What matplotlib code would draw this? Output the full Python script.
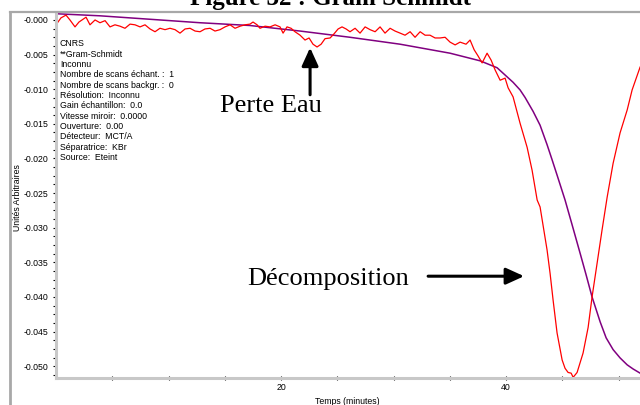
import matplotlib
matplotlib.use("Agg")
import matplotlib.pyplot as plt
from matplotlib.lines import Line2D
from matplotlib.ticker import MultipleLocator, FixedLocator

# Gram-Schmidt trace (red)
gs_t = [0.0, 0.44, 0.89, 1.24, 1.69, 2.04, 2.67, 3.02, 3.47, 3.91, 4.36, 4.80, 5.24,
        5.69, 6.13, 6.58, 7.02, 7.47, 7.91, 8.36, 8.80, 9.24, 9.69, 10.13, 10.58,
        11.02, 11.47, 11.91, 12.36, 12.80, 13.24, 13.69, 14.13, 14.58, 15.02, 15.47,
        15.91, 16.36, 16.80, 17.24, 17.51, 17.87, 18.13, 18.58, 19.02, 19.47, 19.91,
        20.18, 20.53, 20.89, 21.24, 21.69, 22.13, 22.49, 22.84, 23.20, 23.56, 23.91,
        24.36, 24.71, 25.07, 25.42, 25.78, 26.13, 26.58, 27.02, 27.47, 27.91, 28.36,
        28.80, 29.24, 29.69, 30.13, 30.58, 31.02, 31.47, 31.91, 32.36, 32.80, 33.24,
        33.69, 34.13, 34.58, 35.02, 35.47, 35.91, 36.44, 36.80, 37.16, 37.51, 37.87,
        38.31, 38.67, 39.02, 39.47, 39.91, 40.18, 40.62, 41.24, 41.87, 42.31, 42.76,
        43.02, 43.64, 43.91, 44.18, 44.53, 44.98, 45.24, 45.51, 45.78, 45.96, 46.31,
        46.84, 47.29, 47.64, 48.09, 48.53, 48.98, 49.51, 50.13, 50.76, 51.20, 51.91]
gs_v = [-0.0007, 0.0003, 0.0007, 0.0000, -0.0010, -0.0003, 0.0004, -0.0007, 0.0000,
        -0.0004, -0.0001, -0.0010, -0.0007, -0.0009, -0.0012, -0.0006, -0.0007,
        -0.0010, -0.0007, -0.0013, -0.0017, -0.0012, -0.0014, -0.0012, -0.0014,
        -0.0019, -0.0013, -0.0012, -0.0016, -0.0017, -0.0013, -0.0012, -0.0016,
        -0.0014, -0.0010, -0.0007, -0.0012, -0.0009, -0.0007, -0.0006, -0.0003,
        -0.0007, -0.0012, -0.0009, -0.0010, -0.0007, -0.0010, -0.0019, -0.0010,
        -0.0012, -0.0017, -0.0022, -0.0029, -0.0026, -0.0035, -0.0039, -0.0035,
        -0.0027, -0.0026, -0.0020, -0.0013, -0.0010, -0.0013, -0.0017, -0.0012,
        -0.0019, -0.0010, -0.0014, -0.0017, -0.0010, -0.0019, -0.0012, -0.0016,
        -0.0019, -0.0022, -0.0017, -0.0025, -0.0017, -0.0022, -0.0022, -0.0026,
        -0.0026, -0.0025, -0.0032, -0.0036, -0.0032, -0.0035, -0.0029, -0.0043,
        -0.0052, -0.0062, -0.0048, -0.0058, -0.0072, -0.0087, -0.0084, -0.0098,
        -0.0111, -0.0149, -0.0184, -0.0217, -0.0260, -0.0270, -0.0332, -0.0366,
        -0.0405, -0.0452, -0.0491, -0.0503, -0.0509, -0.0510, -0.0516, -0.0509,
        -0.0481, -0.0444, -0.0400, -0.0351, -0.0303, -0.0256, -0.0207, -0.0163,
        -0.0130, -0.0101, -0.0068]

# smooth curve (purple)
fit_t = [0.0, 3.91, 8.36, 12.8, 17.24, 21.69, 26.13, 30.58, 35.02, 37.69, 39.2,
         40.62, 41.24, 41.69, 42.4, 43.02, 43.64, 44.09, 44.53, 45.24, 45.87,
         46.58, 47.11, 47.64, 48.36, 48.89, 49.51, 50.13, 50.76, 51.29, 51.91]
fit_v = [0.0009, 0.0006, 0.0001, -0.0004, -0.0008, -0.0016, -0.0025, -0.0035,
         -0.0048, -0.0059, -0.0069, -0.0090, -0.0101, -0.0112, -0.0132, -0.0152,
         -0.0180, -0.0202, -0.0224, -0.0260, -0.0296, -0.0337, -0.0368, -0.0400,
         -0.0436, -0.0459, -0.0476, -0.0488, -0.0498, -0.0504, -0.0510]

y_ticks = [0.0, -0.005, -0.010, -0.015, -0.020, -0.025, -0.030, -0.035, -0.040,
           -0.045, -0.050]
y_tick_labels = ["-0.000", "-0.005", "-0.010", "-0.015", "-0.020", "-0.025",
                 "-0.030", "-0.035", "-0.040", "-0.045", "-0.050"]
x_ticks = [5, 10, 15, 20, 25, 30, 35, 40, 45, 50]
x_tick_labels = ["", "", "", "20", "", "", "", "40", "", ""]

info = ["CNRS", "**Gram-Schmidt", "Inconnu", "Nombre de scans échant. :  1",
        "Nombre de scans backgr. :  0", "Résolution:  Inconnu",
        "Gain échantillon:  0.0", "Vitesse miroir:  0.0000", "Ouverture:  0.00",
        "Détecteur:  MCT/A", "Séparatrice:  KBr", "Source:  Eteint"]

sans = "Liberation Sans"
serif = "Liberation Serif"

fig = plt.figure(figsize=(6.4, 4.05), dpi=100)
W, H = 640, 405
ax = fig.add_axes([56 / W, 1 - 378 / H, 1 - 56 / W, (378 - 12) / H])

ax.plot(fit_t, fit_v, color="#800080", lw=1.1)
ax.plot(gs_t, gs_v, color="#ff0000", lw=0.9)

ax.set_xlim(0, 51.9)
ax.set_ylim(-0.0517, 0.00115)

ax.set_yticks(y_ticks)
ax.set_yticklabels(y_tick_labels, fontfamily=sans, fontsize=6.3)
ax.yaxis.set_minor_locator(MultipleLocator(0.00125))
ax.xaxis.set_major_locator(FixedLocator(x_ticks))
ax.set_xticklabels(x_tick_labels, fontfamily=sans, fontsize=6.3)
ax.tick_params(axis="y", which="both", direction="out", length=2.5, width=0.8,
               pad=3)
ax.tick_params(axis="x", which="both", direction="inout", length=3, width=0.8,
               pad=2)

for s in ["top", "right"]:
    ax.spines[s].set_visible(False)
for s in ["left", "bottom"]:
    ax.spines[s].set_color("#c8c8c8")
    ax.spines[s].set_linewidth(2.2)

# outer frame
fig.add_artist(Line2D([10 / W, 10 / W], [0, 1 - 12 / H], color="#a8a8a8", lw=2))
fig.add_artist(Line2D([10 / W, 1], [1 - 12 / H, 1 - 12 / H], color="#a8a8a8", lw=1.6))

# title, cut off at the top as in the original page
fig.text(331 / W, 1 - 5 / H, "Figure 32 : Gram Schmidt", ha="center", va="baseline",
         fontfamily=serif, fontweight="bold", fontsize=18)

for i, line in enumerate(info):
    fig.text(60 / W, 1 - (44 + i * 10.3) / H, line, ha="left", va="center",
             fontfamily=sans, fontsize=6.3)

fig.text(17 / W, 1 - 198 / H, "Unités Arbitraires", rotation=90, ha="center",
         va="center", fontfamily=sans, fontsize=6.3)
fig.text(347 / W, 1 - 401 / H, "Temps (minutes)", ha="center", va="center",
         fontfamily=sans, fontsize=6.3)

# annotations
ax.text(19.1, -0.0133, "Perte Eau", ha="center", va="baseline",
        fontfamily=serif, fontsize=19)
ax.annotate("", xy=(22.58, -0.0040), xytext=(22.58, -0.0108),
            arrowprops=dict(arrowstyle="-|>,head_length=1.1,head_width=0.5",
                            lw=2.2, color="black", mutation_scale=10,
                            shrinkA=0, shrinkB=0))
ax.text(24.2, -0.0383, "Décomposition", ha="center", va="baseline",
        fontfamily=serif, fontsize=19)
ax.annotate("", xy=(41.6, -0.0370), xytext=(33.07, -0.0370),
            arrowprops=dict(arrowstyle="-|>,head_length=1.1,head_width=0.5",
                            lw=2.2, color="black", mutation_scale=10,
                            shrinkA=0, shrinkB=0))

fig.savefig("out.png", dpi=100)
